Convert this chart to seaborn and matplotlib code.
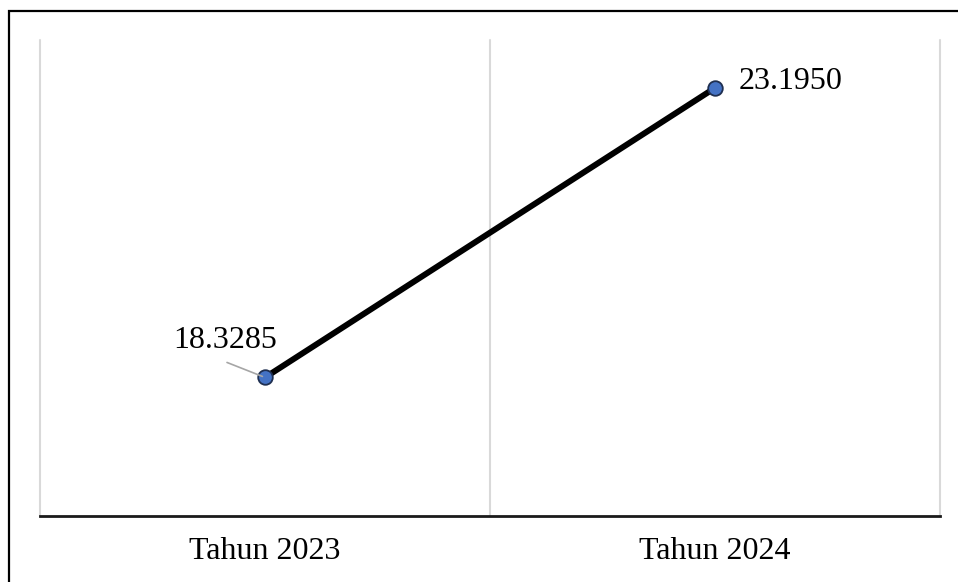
import matplotlib
matplotlib.use("Agg")
import matplotlib.pyplot as plt
import seaborn as sns
import pandas as pd
from matplotlib.patches import Rectangle

# data
categories = ["Tahun 2023", "Tahun 2024"]
values = [18.3285, 23.1950]
value_labels = ["18.3285", "23.1950"]

df = pd.DataFrame({"kategori": categories, "nilai": values})

sns.set_style("white")
plt.rcParams["font.family"] = ["Liberation Serif", "DejaVu Serif"]
plt.rcParams["text.color"] = "black"
plt.rcParams["xtick.color"] = "black"

fig = plt.figure(figsize=(9.58, 5.82), dpi=100)
ax = fig.add_axes([40 / 958, 66 / 582, 900 / 958, 476 / 582])

# vertical separators between categories
for xv in [-0.5, 0.5, 1.5]:
    ax.axvline(xv, color="#D9D9D9", lw=1.5, zorder=0, clip_on=False)

sns.lineplot(data=df, x="kategori", y="nilai", ax=ax, color="black", lw=4.3,
             marker="o", markersize=10.5, markerfacecolor="#4472C4",
             markeredgecolor="#1F2F50", markeredgewidth=1.3, zorder=3)

ax.set_xlim(-0.5, 1.5)
ax.set_ylim(16, 24)
ax.set_yticks([])
ax.set_xlabel("")
ax.set_ylabel("")
ax.tick_params(axis="x", length=0, labelsize=23, pad=15, labelcolor="black")
for s in ["top", "left", "right"]:
    ax.spines[s].set_visible(False)
ax.spines["bottom"].set_color("#1a1a1a")
ax.spines["bottom"].set_linewidth(2)

# data labels
ax.annotate(value_labels[0], xy=(0, values[0]), xytext=(-40, 37),
            textcoords="offset pixels", ha="center", va="center", fontsize=23,
            color="black")
ax.annotate("", xy=(0, values[0]), xytext=(-38, 15), textcoords="offset pixels",
            arrowprops=dict(arrowstyle="-", color="#A6A6A6", lw=1.2,
                            shrinkA=0, shrinkB=2))
ax.annotate(value_labels[1], xy=(1, values[1]), xytext=(24, 6),
            textcoords="offset pixels", ha="left", va="center", fontsize=23,
            color="black")

# outer frame
fig.patches.append(Rectangle((9 / 958, -0.1), 1.2, 1 - 11 / 582 + 0.1,
                             transform=fig.transFigure, fill=False,
                             edgecolor="black", lw=1.6, zorder=10))

fig.savefig("out.png", dpi=100)
